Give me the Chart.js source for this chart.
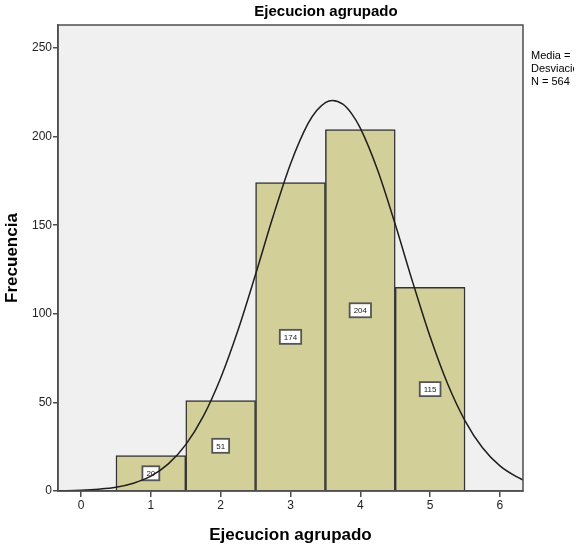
<!DOCTYPE html>
<html>
<head>
<meta charset="utf-8">
<script src="https://cdn.jsdelivr.net/npm/chart.js@4.4.1/dist/chart.umd.min.js"></script>
<style>
  html, body { margin: 0; padding: 0; background: #ffffff; }
  #wrap { width: 576px; height: 546px; position: relative; }
</style>
</head>
<body>
<div id="wrap"><canvas id="hist" width="576" height="546"></canvas></div>
<script>
// Histogram of "Ejecucion agrupado": class centres and counts
const categories = [1, 2, 3, 4, 5];
const frequencies = [20, 51, 174, 204, 115];

// Fitted normal curve (mean 3,61, sd 1,021, N = 564), sampled along the x range
const curveX = [-0.33, 0, 0.25, 0.5, 0.75, 1, 1.25, 1.5, 1.75, 2, 2.25, 2.5, 2.75, 3, 3.25, 3.375, 3.5,
                3.6, 3.75, 3.875, 4, 4.25, 4.5, 4.75, 5, 5.25, 5.5, 5.75, 6, 6.25, 6.33];
const curveY = [0.1, 0.4, 1.0, 2.1, 4.4, 8.4, 15.3, 26.2, 42.1, 63.8, 91.0, 122.3, 154.9, 184.6, 207.3, 214.7, 219.2,
                220.4, 218.3, 213.0, 204.8, 180.9, 150.5, 117.9, 87.0, 60.5, 39.6, 24.4, 14.2, 7.8, 6.3];

const xTicks = [0, 1, 2, 3, 4, 5, 6];
const yTicks = [0, 50, 100, 150, 200, 250];
const statsLines = ['Media =   3,61', 'Desviación típica = 1,021', 'N = 564'];

const chartTitle = 'Ejecucion agrupado';
const xTitle = 'Ejecucion agrupado';
const yTitle = 'Frecuencia';

const FONT = '"Liberation Sans", Arial, sans-serif';
const AXIS = '#4d4d4d';

// plot background, frame, titles and side statistics
const decor = {
  id: 'decor',
  beforeDraw(chart) {
    const { ctx, chartArea: a } = chart;
    ctx.save();
    ctx.fillStyle = '#f0f0f0';
    ctx.fillRect(a.left, a.top, a.right - a.left, a.bottom - a.top);
    ctx.restore();
  },
  afterDraw(chart) {
    const { ctx, chartArea: a } = chart;
    ctx.save();
    ctx.strokeStyle = AXIS;
    ctx.lineWidth = 1.5;
    ctx.strokeRect(a.left, a.top, a.right - a.left, a.bottom - a.top);

    ctx.fillStyle = '#000';
    ctx.textAlign = 'center';
    ctx.textBaseline = 'middle';
    ctx.font = 'bold 15px ' + FONT;
    ctx.fillText(chartTitle, 326, 12);
    ctx.font = 'bold 17px ' + FONT;
    ctx.fillText(xTitle, (a.left + a.right) / 2, 535);
    ctx.translate(12, (a.top + a.bottom) / 2);
    ctx.rotate(-Math.PI / 2);
    ctx.fillText(yTitle, 0, 0);
    ctx.restore();

    ctx.save();
    ctx.beginPath();
    ctx.rect(528, 40, 46, 60);
    ctx.clip();
    ctx.fillStyle = '#000';
    ctx.font = '11px ' + FONT;
    ctx.textAlign = 'left';
    ctx.textBaseline = 'middle';
    statsLines.forEach((t, i) => ctx.fillText(t, 531, 56 + i * 13));
    ctx.restore();
  }
};

// value boxes in the middle of each bar
const valueBoxes = {
  id: 'valueBoxes',
  afterDatasetDraw(chart, args) {
    if (args.index !== 0) return;
    const { ctx } = chart;
    const xs = chart.scales.x, ys = chart.scales.y;
    ctx.save();
    ctx.font = '8px ' + FONT;
    ctx.textAlign = 'center';
    ctx.textBaseline = 'middle';
    categories.forEach((c, i) => {
      const v = frequencies[i];
      const cx = xs.getPixelForValue(c);
      const cy = ys.getPixelForValue(v / 2);
      const w = ctx.measureText(String(v)).width + 8;
      const h = 14;
      ctx.fillStyle = '#ffffff';
      ctx.fillRect(cx - w / 2, cy - h / 2, w, h);
      ctx.strokeStyle = '#555555';
      ctx.lineWidth = 1.8;
      ctx.strokeRect(cx - w / 2, cy - h / 2, w, h);
      ctx.fillStyle = '#222';
      ctx.fillText(String(v), cx, cy + 0.5);
    });
    ctx.restore();
  }
};

new Chart(document.getElementById('hist'), {
  data: {
    datasets: [
      {
        type: 'bar',
        data: categories.map((c, i) => ({ x: c, y: frequencies[i] })),
        backgroundColor: '#d3cf99',
        borderColor: '#333333',
        borderWidth: 1.5,
        borderSkipped: 'bottom',
        barPercentage: 1,
        categoryPercentage: 1,
        order: 2
      },
      {
        type: 'line',
        data: curveX.map((x, i) => ({ x, y: curveY[i] })),
        borderColor: '#1e1e1e',
        borderWidth: 1.5,
        pointRadius: 0,
        cubicInterpolationMode: 'monotone',
        fill: false,
        order: 1
      }
    ]
  },
  options: {
    responsive: false,
    animation: false,
    events: [],
    layout: { padding: { top: 25, right: 53, left: 0, bottom: 0 } },
    plugins: { legend: { display: false }, tooltip: { enabled: false }, title: { display: false } },
    scales: {
      x: {
        type: 'linear',
        offset: false,
        min: -0.33,
        max: 6.33,
        afterBuildTicks(scale) { scale.ticks = xTicks.map(v => ({ value: v })); },
        afterFit(scale) { scale.height = 55; },
        grid: { drawOnChartArea: false, drawTicks: true, tickLength: 6, color: AXIS, lineWidth: 1.5, offset: false },
        border: { display: true, color: AXIS, width: 1.5 },
        ticks: { color: '#222', font: { family: FONT, size: 12 }, padding: 1, autoSkip: false, maxRotation: 0 }
      },
      y: {
        type: 'linear',
        min: 0,
        max: 263,
        afterBuildTicks(scale) { scale.ticks = yTicks.map(v => ({ value: v })); },
        afterFit(scale) { scale.width = 58; },
        grid: { drawOnChartArea: false, drawTicks: true, tickLength: 5, color: AXIS, lineWidth: 1.5 },
        border: { display: true, color: AXIS, width: 1.5 },
        ticks: { color: '#222', font: { family: FONT, size: 12 }, padding: 1 }
      }
    }
  },
  plugins: [decor, valueBoxes]
});
</script>
</body>
</html>
